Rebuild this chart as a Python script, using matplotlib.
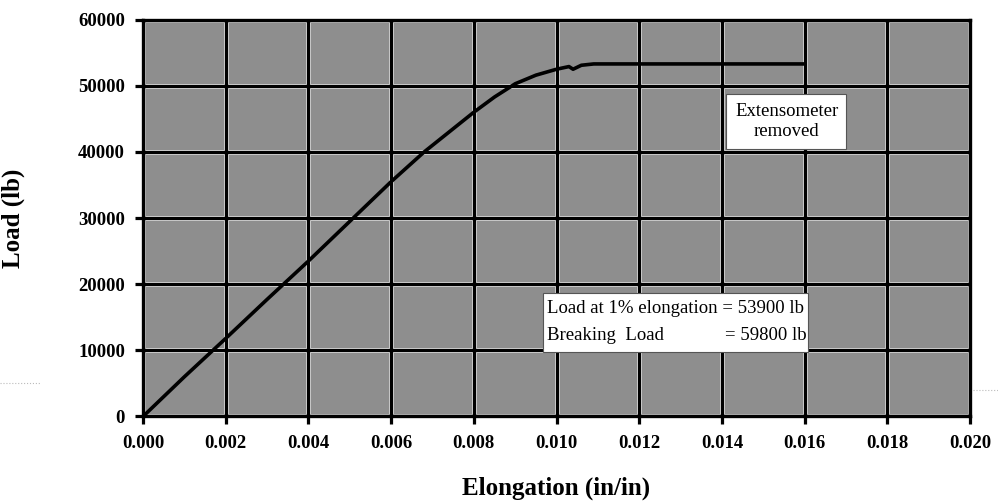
import matplotlib.pyplot as plt
from matplotlib.patches import Rectangle
from matplotlib.lines import Line2D
import numpy as np

# load-elongation curve
elong = [0.0, 0.001, 0.002, 0.003, 0.004, 0.005, 0.006, 0.0068, 0.0075, 0.008,
         0.0085, 0.009, 0.0095, 0.010, 0.0103, 0.0104, 0.0106, 0.0109, 0.013, 0.016]
load = [0, 6000, 11800, 17700, 23500, 29500, 35500, 40000, 43500, 46000,
        48300, 50300, 51600, 52500, 52900, 52500, 53100, 53300, 53300, 53300]

xticks = np.arange(0, 0.0201, 0.002)
yticks = np.arange(0, 60001, 10000)

plt.rcParams['font.family'] = ['Liberation Serif', 'DejaVu Serif']

fig = plt.figure(figsize=(9.98, 5.03), dpi=100)
ax = fig.add_axes([0.1433, 0.172, 0.8287, 0.789])
ax.set_facecolor('#8e8e8e')

# grid: black lines with a light halo, like the scan
for xv in xticks:
    ax.axvline(xv, color='#dcdcdc', lw=3.6, zorder=1)
    ax.axvline(xv, color='black', lw=2.3, zorder=2)
for yv in yticks:
    ax.axhline(yv, color='#dcdcdc', lw=3.6, zorder=1)
    ax.axhline(yv, color='black', lw=2.3, zorder=2)

ax.plot(elong, load, color='black', lw=2.6, zorder=3, solid_capstyle='butt')

ax.set_xlim(0, 0.020)
ax.set_ylim(0, 60000)
ax.set_xticks(xticks)
ax.set_yticks(yticks)
ax.set_xticklabels(['%.3f' % v for v in xticks])
ax.set_yticklabels(['%d' % v for v in yticks])
ax.tick_params(direction='out', length=6, width=2.3, labelsize=13.5, pad=7)
for lab in ax.get_xticklabels() + ax.get_yticklabels():
    lab.set_fontweight('bold')
for s in ax.spines.values():
    s.set_linewidth(2.4)

ax.set_xlabel('Elongation (in/in)', fontsize=18, fontweight='bold', labelpad=18)
ax.set_ylabel('Load (lb)', fontsize=18, fontweight='bold', labelpad=38)

# annotation boxes
ax.add_patch(Rectangle((0.0141, 40400), 0.0029, 8400, facecolor='white',
                       edgecolor='#555555', lw=0.8, zorder=4))
ax.text(0.01557, 44600, 'Extensometer\nremoved', ha='center', va='center',
        fontsize=13.5, linespacing=1.25, zorder=5)

ax.add_patch(Rectangle((0.00967, 9800), 0.0064, 8900, facecolor='white',
                       edgecolor='#555555', lw=0.8, zorder=4))
ax.text(0.00978, 16300, 'Load at 1% elongation = 53900 lb', ha='left', va='center',
        fontsize=13.5, zorder=5)
ax.text(0.00978, 12300, 'Breaking  Load', ha='left', va='center',
        fontsize=13.5, zorder=5)
ax.text(0.01605, 12300, '= 59800 lb', ha='right', va='center',
        fontsize=13.5, zorder=5)

# faint dotted scan edge marks
fig.add_artist(Line2D([0.0, 0.04], [0.238, 0.238], color='#bbbbbb', lw=0.8, ls=':'))
fig.add_artist(Line2D([0.975, 1.0], [0.225, 0.225], color='#bbbbbb', lw=0.8, ls=':'))

fig.savefig('out.png', dpi=100)
